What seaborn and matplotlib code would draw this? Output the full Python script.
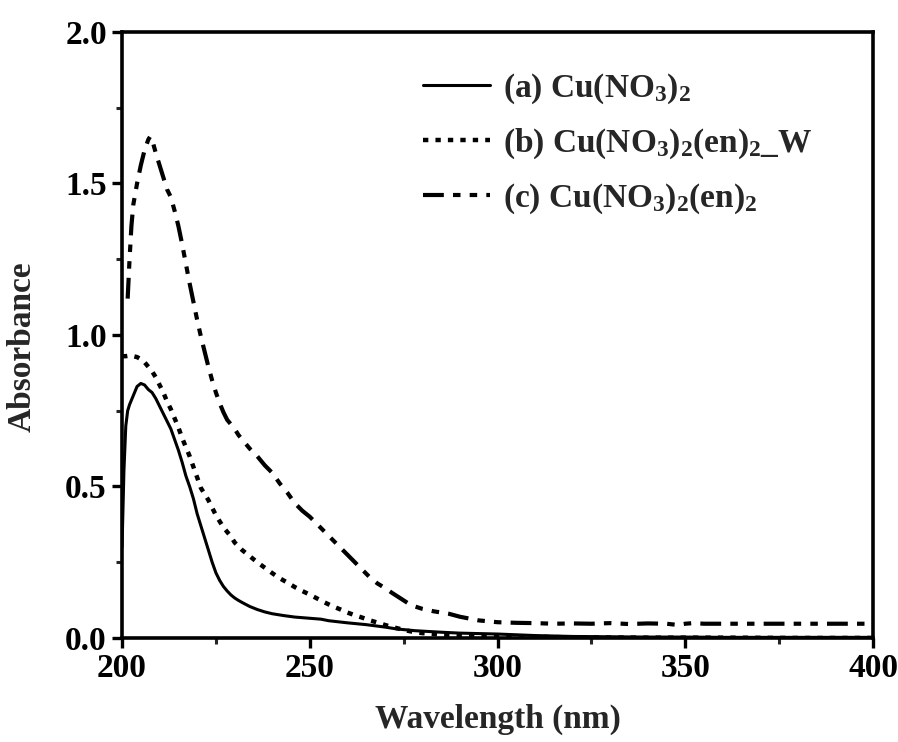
import numpy as np
import pandas as pd
import matplotlib
matplotlib.use("Agg")
import matplotlib.pyplot as plt
import seaborn as sns
from matplotlib.ticker import MultipleLocator, FormatStrFormatter

# ---------------- data ----------------
wl_a = [200, 200.5, 201, 201.5, 202, 203, 204, 205, 206, 207, 208, 209, 210, 211, 212,
        213, 214, 215, 216, 217, 218, 219, 220, 221, 222, 223, 224, 225, 226, 227, 228,
        229, 230, 231, 232, 234, 236, 238, 240, 243, 246, 250, 253, 255, 260, 265, 270,
        273, 278, 285, 290, 300, 310, 320, 330, 340, 350, 360, 380, 400]
abs_a = [0.30, 0.55, 0.70, 0.75, 0.77, 0.80, 0.83, 0.84, 0.835, 0.82, 0.81, 0.79, 0.765,
         0.74, 0.715, 0.69, 0.655, 0.62, 0.58, 0.535, 0.50, 0.46, 0.41, 0.37, 0.33, 0.29,
         0.25, 0.215, 0.19, 0.17, 0.155, 0.142, 0.132, 0.124, 0.117, 0.104, 0.094, 0.086,
         0.080, 0.074, 0.069, 0.065, 0.062, 0.057, 0.050, 0.044, 0.036, 0.030, 0.024,
         0.019, 0.016, 0.013, 0.008, 0.005, 0.004, 0.003, 0.003, 0.002, 0.002, 0.002]

wl_b = [200, 201, 202, 203, 204, 205, 206, 207, 208, 209, 210, 211, 212, 213, 214, 215,
        216, 217, 218, 219, 220, 221, 222, 223, 224, 225, 226, 227, 228, 229, 230, 232,
        234, 236, 238, 240, 242, 244, 246, 248, 250, 252, 254, 256, 258, 260, 262, 264,
        266, 268, 270, 272, 274, 276, 278, 280, 284, 290, 300, 310, 320, 340, 360, 380, 400]
abs_b = [0.93, 0.93, 0.932, 0.93, 0.927, 0.92, 0.91, 0.895, 0.88, 0.86, 0.835, 0.81, 0.78,
         0.755, 0.725, 0.695, 0.66, 0.63, 0.60, 0.565, 0.53, 0.495, 0.475, 0.455, 0.43,
         0.405, 0.385, 0.365, 0.35, 0.335, 0.315, 0.29, 0.27, 0.25, 0.232, 0.214, 0.197,
         0.183, 0.168, 0.155, 0.143, 0.13, 0.117, 0.105, 0.095, 0.084, 0.075, 0.067, 0.058,
         0.051, 0.043, 0.036, 0.030, 0.024, 0.019, 0.016, 0.012, 0.009, 0.006, 0.004,
         0.002, 0.001, 0.001, 0.0, 0.0]

wl_c = [201.5, 202, 202.5, 203, 204, 205, 206, 207, 207.5, 208, 209, 210, 211, 212, 213,
        214, 215, 216, 217, 218, 219, 220, 221, 222, 223, 224, 225, 226, 227, 228, 229,
        230, 231, 232, 234, 236, 238, 240, 242, 244, 246, 248, 250, 252, 254, 256, 258,
        260, 262, 264, 266, 268, 270, 272, 274, 276, 278, 280, 283, 287, 290, 295, 300,
        305, 310, 315, 320, 325, 330, 335, 340, 345, 348, 350, 352, 355, 360, 370, 380,
        390, 400]
abs_c = [1.12, 1.25, 1.36, 1.43, 1.50, 1.56, 1.61, 1.645, 1.655, 1.645, 1.60, 1.56, 1.52,
         1.48, 1.455, 1.41, 1.36, 1.30, 1.235, 1.17, 1.11, 1.05, 0.995, 0.945, 0.895, 0.85,
         0.81, 0.775, 0.745, 0.72, 0.705, 0.69, 0.67, 0.655, 0.625, 0.60, 0.57, 0.545,
         0.51, 0.48, 0.445, 0.42, 0.40, 0.375, 0.35, 0.325, 0.30, 0.275, 0.25, 0.225, 0.20,
         0.18, 0.165, 0.148, 0.132, 0.116, 0.104, 0.096, 0.088, 0.080, 0.070, 0.058, 0.052,
         0.050, 0.049, 0.047, 0.048, 0.047, 0.049, 0.046, 0.048, 0.047, 0.043, 0.047,
         0.049, 0.047, 0.047, 0.047, 0.047, 0.047, 0.047]

labels = [r"(a) Cu(NO$_3$)$_2$",
          r"(b) Cu(NO$_3$)$_2$(en)$_2$_W",
          r"(c) Cu(NO$_3$)$_2$(en)$_2$"]

x_ticks = [200, 250, 300, 350, 400]
y_ticks = [0.0, 0.5, 1.0, 1.5, 2.0]

# ---------------- style ----------------
sns.set_style("ticks")
plt.rcParams["font.family"] = ["Liberation Serif", "DejaVu Serif"]
plt.rcParams["font.weight"] = "bold"
plt.rcParams["mathtext.fontset"] = "custom"
plt.rcParams["mathtext.rm"] = "Liberation Serif:bold"
plt.rcParams["mathtext.it"] = "Liberation Serif:bold"
plt.rcParams["mathtext.bf"] = "Liberation Serif:bold"
plt.rcParams["mathtext.default"] = "rm"

fig = plt.figure(figsize=(8.98, 7.42), dpi=100)
ax = fig.add_axes([0.1359, 0.1402, 0.8363, 0.8167])

df_a = pd.DataFrame({"wl": wl_a, "A": abs_a})
df_b = pd.DataFrame({"wl": wl_b, "A": abs_b})
df_c = pd.DataFrame({"wl": wl_c, "A": abs_c})

sns.lineplot(data=df_a, x="wl", y="A", ax=ax, color="black", lw=2.2,
             estimator=None, sort=False, label=labels[0])
sns.lineplot(data=df_b, x="wl", y="A", ax=ax, color="black", lw=3.2,
             linestyle=(0, (1.2, 1.6)), estimator=None, sort=False, label=labels[1])
sns.lineplot(data=df_c, x="wl", y="A", ax=ax, color="black", lw=3.0,
             linestyle=(0, (5.0, 2.2, 1.8, 2.2, 1.8, 2.2)), estimator=None, sort=False,
             label=labels[2])

ax.set_xlim(200, 400)
ax.set_ylim(0, 2.0)
ax.set_xticks(x_ticks)
ax.set_yticks(y_ticks)
ax.xaxis.set_minor_locator(MultipleLocator(25))
ax.yaxis.set_minor_locator(MultipleLocator(0.25))
ax.yaxis.set_major_formatter(FormatStrFormatter("%.1f"))

for s in ax.spines.values():
    s.set_linewidth(2.6)
    s.set_color("black")
    s.set_visible(True)

ax.tick_params(axis="both", which="major", direction="out", length=7, width=2.4,
               labelsize=24, pad=4, top=False, right=False, colors="black")
ax.tick_params(axis="both", which="minor", direction="out", length=4.5, width=2.2,
               top=False, right=False)
for lab in ax.get_xticklabels() + ax.get_yticklabels():
    lab.set_fontweight("bold")

ax.set_xlabel("Wavelength (nm)", fontsize=24, fontweight="bold", labelpad=14)
ax.set_ylabel("Absorbance", fontsize=24, fontweight="bold")
ax.yaxis.set_label_coords(-0.112, 0.48)

leg = ax.legend(loc="upper left", bbox_to_anchor=(0.383, 0.957), frameon=False,
                fontsize=24, handlelength=2.0, handletextpad=0.4, labelspacing=0.62,
                borderaxespad=0.0)
for t in leg.get_texts():
    t.set_fontweight("bold")

fig.savefig("out.png", dpi=100)
